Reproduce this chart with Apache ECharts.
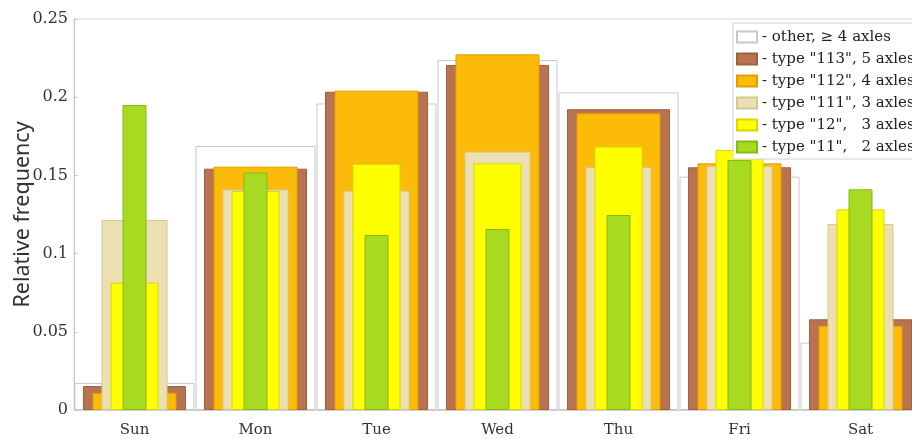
<!DOCTYPE html>
<html>
<head>
<meta charset="utf-8">
<script src="https://cdn.jsdelivr.net/npm/echarts@6/dist/echarts.min.js"></script>
<style>html,body{margin:0;padding:0;background:#fff}#c{width:912px;height:439px}</style>
</head>
<body>
<div id="c"></div>
<script>
const categories = ['Sun', 'Mon', 'Tue', 'Wed', 'Thu', 'Fri', 'Sat'];
const yTicks = [0, 0.05, 0.1, 0.15, 0.2, 0.25];
const seriesNames = ['- other, \u2265 4 axles', '- type "113", 5 axles', '- type "112", 4 axles', '- type "111", 3 axles', '- type "12",   3 axles', '- type "11",   2 axles'];
const other   = [0.0173, 0.1688, 0.1960, 0.2238, 0.2031, 0.1492, 0.0430];
const type113 = [0.0153, 0.1543, 0.2035, 0.2206, 0.1923, 0.1552, 0.0580];
const type112 = [0.0110, 0.1556, 0.2042, 0.2274, 0.1897, 0.1577, 0.0537];
const type111 = [0.1215, 0.1410, 0.1402, 0.1652, 0.1552, 0.1560, 0.1189];
const type12  = [0.0814, 0.1400, 0.1573, 0.1577, 0.1684, 0.1662, 0.1283];
const type11  = [0.1950, 0.1518, 0.1119, 0.1157, 0.1247, 0.1598, 0.1411];

const values = [other, type113, type112, type111, type12, type11];
const widths = [120, 103, 84, 66, 48, 24];
const fills = ['#ffffff', '#b97350', '#fbbb08', '#ecdfb2', '#ffff00', '#a8da22'];
const borders = ['#c8c8c8', '#a0603c', '#e0a000', '#d6c690', '#d8d800', '#88b818'];

const serif = 'DejaVu Serif';
const xAxes = values.map((v, i) => ({
  type: 'category',
  data: categories,
  gridIndex: 0,
  show: i === 0,
  axisLine: { show: true, lineStyle: { color: '#d0d0d0' } },
  axisTick: { show: false },
  axisLabel: { color: '#333', fontFamily: serif, fontSize: 15, margin: 13 }
}));

const series = values.map((v, i) => ({
  name: seriesNames[i],
  type: 'bar',
  xAxisIndex: i,
  data: v,
  barWidth: widths[i],
  itemStyle: { color: fills[i], borderColor: borders[i], borderWidth: 1 },
  z: 2 + i
}));

const chart = echarts.init(document.getElementById('c'), null, { renderer: 'canvas' });
chart.setOption({
  animation: false,
  backgroundColor: '#fff',
  grid: { left: 74, top: 19, bottom: 29, right: -9, show: true, borderColor: '#d8d8d8', borderWidth: 1, backgroundColor: 'transparent', containLabel: false, outerBoundsMode: 'none' },
  legend: {
    orient: 'vertical',
    left: 733,
    top: 23,
    data: seriesNames,
    icon: 'rect',
    itemWidth: 20,
    itemHeight: 11,
    itemGap: 4,
    padding: [5, 5, 3, 3],
    backgroundColor: '#fff',
    borderColor: '#d0d0d0',
    borderWidth: 1,
    textStyle: { fontFamily: serif, fontSize: 15, color: '#222', lineHeight: 18 },
    z: 20
  },
  xAxis: xAxes,
  yAxis: {
    type: 'value',
    min: yTicks[0],
    max: yTicks[yTicks.length - 1],
    interval: 0.05,
    name: 'Relative frequency',
    nameLocation: 'middle',
    nameGap: 40,
    nameMoveOverlap: false,
    nameTextStyle: { fontFamily: 'Noto Sans', fontSize: 21.5, color: '#333' },
    axisLine: { show: true, lineStyle: { color: '#c8c8c8' } },
    axisTick: { show: true, inside: true, length: 4, lineStyle: { color: '#c8c8c8' } },
    splitLine: { show: false },
    axisLabel: { color: '#333', fontFamily: serif, fontSize: 16, margin: 6 }
  },
  series: series
});
</script>
</body>
</html>
